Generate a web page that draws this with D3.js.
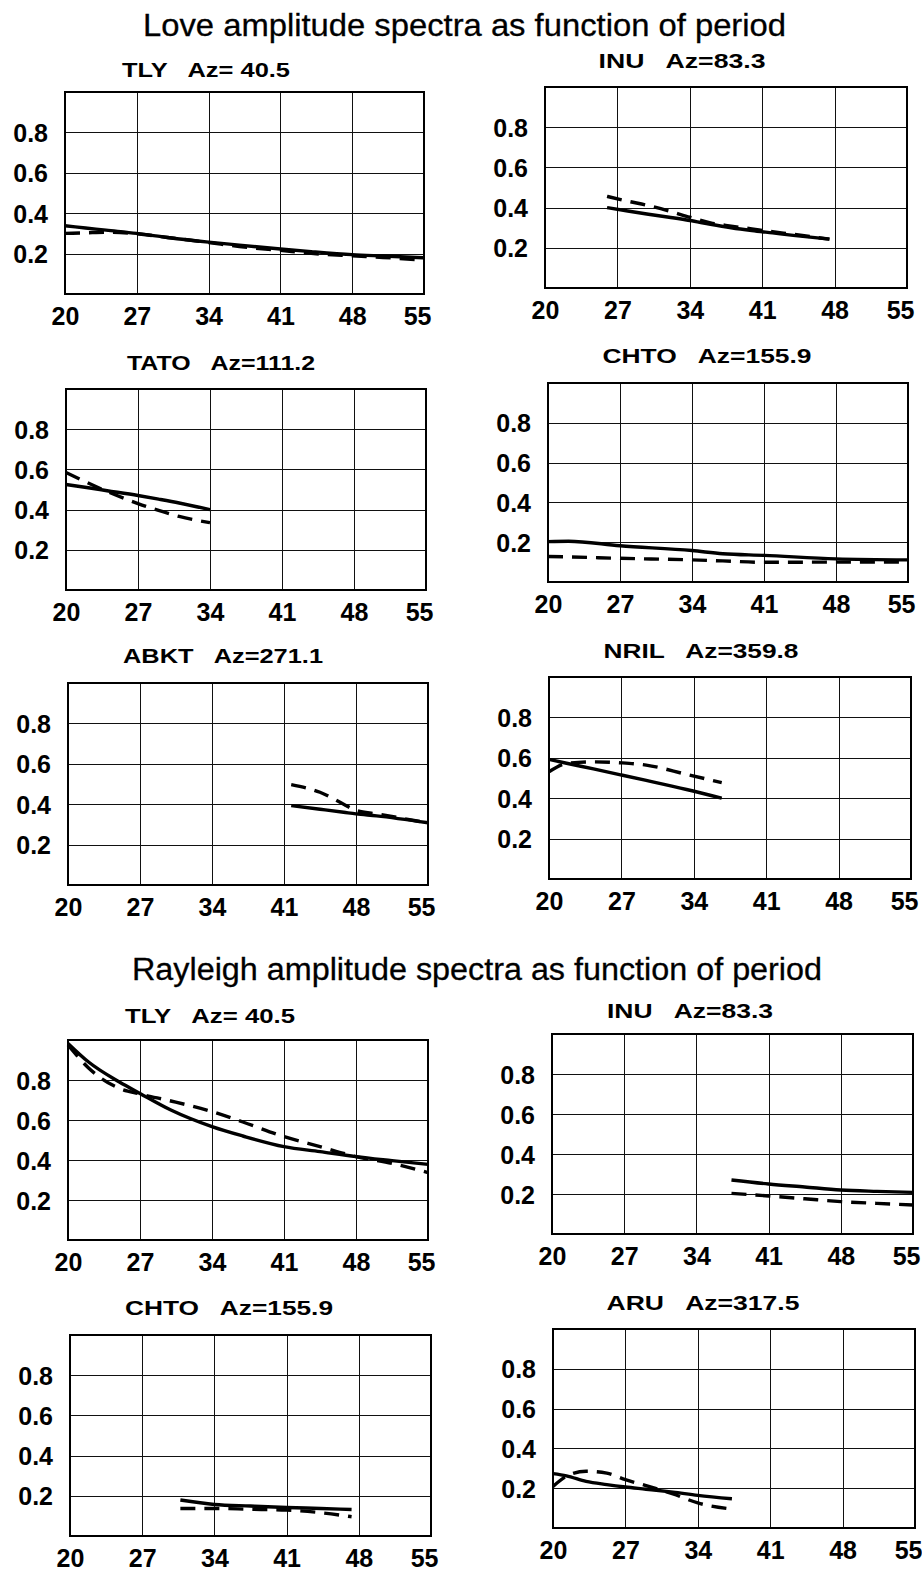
<!DOCTYPE html>
<html>
<head>
<meta charset="utf-8">
<script src="https://cdn.jsdelivr.net/npm/d3@7"></script>
<style>
  body { margin: 0; background: #fff; }
  svg { display: block; font-family: "Liberation Sans", Arial, sans-serif; }
  .grid line { stroke: #111; stroke-width: 1; shape-rendering: crispEdges; }
  .grid .domain { display: none; }
  .frame { fill: none; stroke: #000; stroke-width: 1.5; shape-rendering: crispEdges; }
  .tick-label text { font-size: 25px; font-weight: bold; fill: #000; }
  .tick-label .domain { display: none; }
  .subtitle { font-size: 20px; font-weight: bold; fill: #000; white-space: pre; }
  .main-title { font-size: 32px; fill: #000; stroke: #000; stroke-width: 0.3; }
  .obs { fill: none; stroke: #000; stroke-width: 3.4; }
  .syn { fill: none; stroke: #000; stroke-width: 3.4; stroke-dasharray: 15 9; }
</style>
</head>
<body>
<div id="chart"></div>
<script>
// axis ticks shared by every panel
const tickPeriods = [20, 27, 34, 41, 48, 55];
const tickAmps = [0.2, 0.4, 0.6, 0.8];

// Love waves -- solid = observed, dashed = synthetic
const periodsLoveTLY = [20, 22, 24, 27, 30, 34, 37, 41, 44, 48, 51, 55];
const solidLoveTLY   = [0.338, 0.327, 0.316, 0.300, 0.280, 0.257, 0.242, 0.223, 0.210, 0.195, 0.188, 0.179];
const dashedLoveTLY  = [0.300, 0.303, 0.306, 0.298, 0.280, 0.255, 0.235, 0.216, 0.201, 0.189, 0.181, 0.168];

const periodsLoveINU = [26, 28, 30, 32, 34, 36, 38, 40, 42, 44, 47.5];
const solidLoveINU   = [0.400, 0.383, 0.367, 0.352, 0.336, 0.317, 0.300, 0.286, 0.274, 0.262, 0.243];
const dashedLoveINU  = [0.456, 0.432, 0.410, 0.383, 0.352, 0.324, 0.308, 0.294, 0.280, 0.267, 0.243];

const periodsLoveTATO = [20, 22, 24, 27, 29, 31, 34];
const solidLoveTATO   = [0.525, 0.510, 0.494, 0.470, 0.452, 0.433, 0.400];
const dashedLoveTATO  = [0.585, 0.536, 0.490, 0.430, 0.396, 0.366, 0.335];

const periodsLoveCHTO = [20, 22, 27, 34, 37, 41, 48, 55];
const solidLoveCHTO   = [0.203, 0.205, 0.182, 0.158, 0.142, 0.134, 0.116, 0.111];
const dashedLoveCHTO  = [0.128, 0.126, 0.119, 0.111, 0.106, 0.099, 0.100, 0.100];

const periodsLoveABKT = [41.7, 44.5, 46.8, 48, 50, 55];
const solidLoveABKT   = [0.393, 0.375, 0.360, 0.352, 0.342, 0.308];
const dashedLoveABKT  = [0.497, 0.459, 0.400, 0.369, 0.352, 0.307];

const periodsLoveNRIL = [20, 21.7, 24.3, 27, 29.4, 33.3, 36.7];
const solidLoveNRIL   = [0.592, 0.573, 0.545, 0.515, 0.488, 0.443, 0.400];
const dashedLoveNRIL  = [0.531, 0.572, 0.580, 0.575, 0.564, 0.518, 0.477];

// Rayleigh waves
const periodsRayTLY = [20, 22, 25, 27, 30, 34, 37, 41, 44.5, 48, 51.5, 55];
const solidRayTLY   = [0.983, 0.890, 0.790, 0.733, 0.650, 0.567, 0.520, 0.467, 0.442, 0.417, 0.397, 0.378];
const dashedRayTLY  = [0.975, 0.860, 0.758, 0.730, 0.695, 0.642, 0.590, 0.517, 0.467, 0.417, 0.383, 0.337];

const periodsRayINU = [37.4, 41, 44.5, 48, 51.5, 55];
const solidRayINU   = [0.270, 0.250, 0.235, 0.220, 0.213, 0.208];
const dashedRayINU  = [0.203, 0.190, 0.176, 0.162, 0.153, 0.145];

const periodsRayCHTO = [30.7, 34, 37.5, 41, 44.3, 47.3];
const solidRayCHTO   = [0.179, 0.157, 0.149, 0.142, 0.137, 0.132];
const dashedRayCHTO  = [0.137, 0.137, 0.133, 0.129, 0.116, 0.096];

const periodsRayARU = [20, 21.3, 23.2, 25.2, 27, 29, 31.6, 34, 37.3];
const solidRayARU   = [0.273, 0.262, 0.234, 0.218, 0.206, 0.195, 0.180, 0.164, 0.147];
const dashedRayARU  = [0.209, 0.260, 0.285, 0.276, 0.243, 0.213, 0.171, 0.126, 0.095];

// where each small panel sits on the page
const panels = [
  {name: "TLY",  az: " 40.5", periods: periodsLoveTLY,  solid: solidLoveTLY,  dashed: dashedLoveTLY,  left: 65,  top: 92,   w: 359, h: 202, tx: 206, ty: 77,   tw: 168},
  {name: "INU",  az: "83.3",  periods: periodsLoveINU,  solid: solidLoveINU,  dashed: dashedLoveINU,  left: 545, top: 87,   w: 362, h: 201, tx: 682, ty: 68,   tw: 167},
  {name: "TATO", az: "111.2", periods: periodsLoveTATO, solid: solidLoveTATO, dashed: dashedLoveTATO, left: 66,  top: 389,  w: 360, h: 201, tx: 221, ty: 370,  tw: 188},
  {name: "CHTO", az: "155.9", periods: periodsLoveCHTO, solid: solidLoveCHTO, dashed: dashedLoveCHTO, left: 548, top: 383,  w: 360, h: 199, tx: 707, ty: 363,  tw: 209},
  {name: "ABKT", az: "271.1", periods: periodsLoveABKT, solid: solidLoveABKT, dashed: dashedLoveABKT, left: 68,  top: 683,  w: 360, h: 202, tx: 223, ty: 663,  tw: 200},
  {name: "NRIL", az: "359.8", periods: periodsLoveNRIL, solid: solidLoveNRIL, dashed: dashedLoveNRIL, left: 549, top: 677,  w: 362, h: 202, tx: 701, ty: 658,  tw: 195},
  {name: "TLY",  az: " 40.5", periods: periodsRayTLY,   solid: solidRayTLY,   dashed: dashedRayTLY,   left: 68,  top: 1040, w: 360, h: 200, tx: 210, ty: 1023, tw: 170},
  {name: "INU",  az: "83.3",  periods: periodsRayINU,   solid: solidRayINU,   dashed: dashedRayINU,   left: 552, top: 1034, w: 361, h: 200, tx: 690, ty: 1018, tw: 166},
  {name: "CHTO", az: "155.9", periods: periodsRayCHTO,  solid: solidRayCHTO,  dashed: dashedRayCHTO,  left: 70,  top: 1335, w: 361, h: 201, tx: 229, ty: 1315, tw: 208},
  {name: "ARU",  az: "317.5", periods: periodsRayARU,   solid: solidRayARU,   dashed: dashedRayARU,   left: 553, top: 1329, w: 362, h: 199, tx: 703, ty: 1310, tw: 193}
];

const width = 922, height = 1574;

const svg = d3.select("#chart").append("svg")
    .attr("width", width)
    .attr("height", height);

// section headings
svg.append("text")
    .attr("class", "main-title")
    .attr("x", 143).attr("y", 36)
    .attr("textLength", 643).attr("lengthAdjust", "spacingAndGlyphs")
    .text("Love amplitude spectra as function of period");

svg.append("text")
    .attr("class", "main-title")
    .attr("x", 132).attr("y", 980)
    .style("font-size", "31px")
    .attr("textLength", 690).attr("lengthAdjust", "spacingAndGlyphs")
    .text("Rayleigh amplitude spectra as function of period");

panels.forEach(p => {
    const x = d3.scaleLinear().domain([20, 55]).range([0, p.w]);
    const y = d3.scaleLinear().domain([0, 1]).range([p.h, 0]);

    const g = svg.append("g")
        .attr("transform", `translate(${p.left},${p.top})`);

    // grid
    g.append("g").attr("class", "grid")
        .call(d3.axisLeft(y).tickValues(tickAmps).tickSize(-p.w).tickFormat(""));
    g.append("g").attr("class", "grid")
        .attr("transform", `translate(0,${p.h})`)
        .call(d3.axisBottom(x).tickValues(tickPeriods.slice(1, -1)).tickSize(-p.h).tickFormat(""));

    g.append("rect").attr("class", "frame")
        .attr("width", p.w).attr("height", p.h);

    // labels
    g.append("g").attr("class", "tick-label")
        .call(d3.axisLeft(y).tickValues(tickAmps).tickSize(0).tickPadding(17).tickFormat(d3.format(".1f")))
        .selectAll("text").attr("dy", "0.36em");
    g.append("g").attr("class", "tick-label")
        .attr("transform", `translate(0,${p.h})`)
        .call(d3.axisBottom(x).tickValues(tickPeriods).tickSize(0).tickPadding(13))
        .selectAll("text")
        .attr("dy", "0.71em")
        // the last label is pulled in so it stays inside the page
        .filter(d => d === 55)
        .attr("text-anchor", "end")
        .attr("x", 7);

    // spectra
    const line = d3.line()
        .x(d => x(d[0]))
        .y(d => y(d[1]))
        .curve(d3.curveMonotoneX);

    g.append("path").attr("class", "syn")
        .attr("d", line(d3.zip(p.periods, p.dashed)));
    g.append("path").attr("class", "obs")
        .attr("d", line(d3.zip(p.periods, p.solid)));

    // station heading
    svg.append("text")
        .attr("class", "subtitle")
        .attr("x", p.tx).attr("y", p.ty)
        .attr("text-anchor", "middle")
        .attr("textLength", p.tw).attr("lengthAdjust", "spacingAndGlyphs")
        .text(p.name + "   Az=" + p.az);
});
</script>
</body>
</html>
